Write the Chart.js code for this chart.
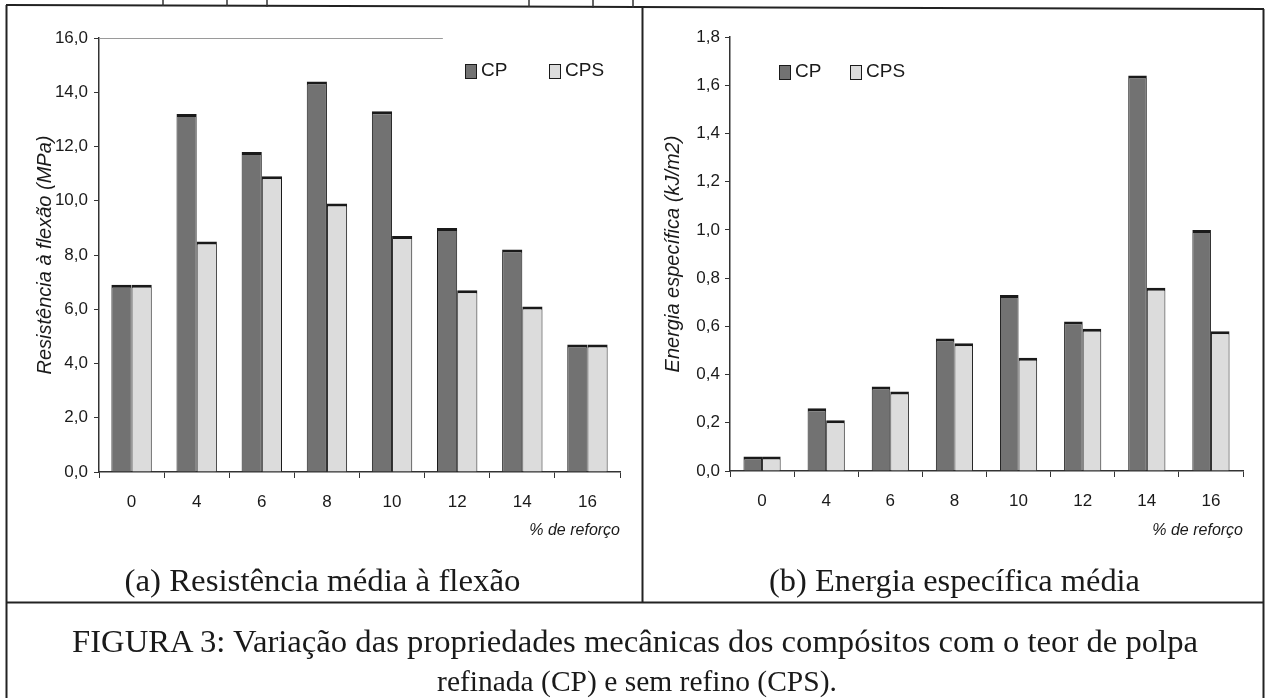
<!DOCTYPE html>
<html>
<head>
<meta charset="utf-8">
<script src="https://cdn.jsdelivr.net/npm/chart.js@4/dist/chart.umd.min.js"></script>
<style>
html,body{margin:0;padding:0;background:#fff;width:1266px;height:698px;overflow:hidden;}
#wrapA{position:absolute;left:0;top:0;width:640px;height:560px;}
#wrapB{position:absolute;left:642px;top:0;width:624px;height:560px;}
#frame{position:absolute;left:0;top:0;}
</style>
</head>
<body>
<div id="wrapA"><canvas id="chartA" width="640" height="560"></canvas></div>
<div id="wrapB"><canvas id="chartB" width="624" height="560"></canvas></div>
<svg id="frame" width="1266" height="698" xmlns="http://www.w3.org/2000/svg">
  <g stroke="#222" stroke-width="2" fill="none">
    <line x1="6" y1="5" x2="1264" y2="9"/>
    <line x1="6.5" y1="5" x2="6.5" y2="698"/>
    <line x1="1263.5" y1="9" x2="1263.5" y2="698"/>
    <line x1="642.5" y1="7" x2="642.5" y2="603"/>
    <line x1="6" y1="602.5" x2="1264" y2="602.5"/>
  </g>
  <g stroke="#333" stroke-width="1.5">
    <line x1="163" y1="0" x2="163" y2="6"/>
    <line x1="227" y1="0" x2="227" y2="6"/>
    <line x1="267" y1="0" x2="267" y2="7"/>
    <line x1="529" y1="0" x2="529" y2="7"/>
    <line x1="593" y1="0" x2="593" y2="8"/>
    <line x1="633" y1="0" x2="633" y2="8"/>
  </g>
  <g font-family="'Liberation Serif','Times New Roman',serif" fill="#1a1a1a">
    <text x="124.5" y="591" font-size="32" textLength="396" lengthAdjust="spacingAndGlyphs">(a) Resistência média à flexão</text>
    <text x="769" y="591" font-size="32" textLength="371" lengthAdjust="spacingAndGlyphs">(b) Energia específica média</text>
    <text x="72" y="652" font-size="31" textLength="1126" lengthAdjust="spacingAndGlyphs">FIGURA 3: Variação das propriedades mecânicas dos compósitos com o teor de polpa</text>
    <text x="637" y="691" font-size="29.5" text-anchor="middle">refinada (CP) e sem refino (CPS).</text>
  </g>
</svg>
<script>
// ---- data ----
const categories = ['0', '4', '6', '8', '10', '12', '14', '16'];
const seriesNames = ['CP', 'CPS'];
const resistCP  = [6.9, 13.2, 11.8, 14.4, 13.3, 9.0, 8.2, 4.7];
const resistCPS = [6.9, 8.5, 10.9, 9.9, 8.7, 6.7, 6.1, 4.7];
const energyCP  = [0.06, 0.26, 0.35, 0.55, 0.73, 0.62, 1.64, 1.00];
const energyCPS = [0.06, 0.21, 0.33, 0.53, 0.47, 0.59, 0.76, 0.58];
const resistAxis = { min: 0, max: 16, step: 2, title: 'Resistência à flexão (MPa)' };
const energyAxis = { min: 0, max: 1.8, step: 0.2, title: 'Energia específica (kJ/m2)' };
const xTitle = '% de reforço';

// ---- styling ----
const CP_FILL = '#727272';
const CPS_FILL = '#dcdcdc';
const INK = '#1a1a1a';
const SANS = "'Liberation Sans', Arial, sans-serif";

const inlineLegend = {
  id: 'inlineLegend',
  afterDraw(chart, args, opts) {
    const ctx = chart.ctx;
    ctx.save();
    ctx.font = opts.fontSize + 'px ' + SANS;
    ctx.textBaseline = 'alphabetic';
    chart.data.datasets.forEach((ds, i) => {
      const x = opts.x[i], y = opts.y;
      ctx.fillStyle = ds.backgroundColor;
      ctx.fillRect(x, y, 12, 15);
      ctx.strokeStyle = INK;
      ctx.lineWidth = 1;
      ctx.strokeRect(x + 0.5, y + 0.5, 11, 14);
      ctx.fillStyle = INK;
      ctx.fillText(ds.label, x + 16, y + opts.baseline);
    });
    ctx.restore();
  }
};

// faint partial top gridline seen in the left panel
const topRule = {
  id: 'topRule',
  beforeDatasetsDraw(chart, args, opts) {
    if (!opts.frac) return;
    const { ctx, chartArea, scales } = chart;
    const y = Math.round(scales.y.getPixelForValue(scales.y.max)) + 0.5;
    ctx.save();
    ctx.strokeStyle = '#9a9a9a';
    ctx.lineWidth = 1.2;
    ctx.beginPath();
    ctx.moveTo(chartArea.left, y);
    ctx.lineTo(chartArea.left + (chartArea.right - chartArea.left) * opts.frac, y);
    ctx.stroke();
    ctx.restore();
  }
};

function makeChart(id, cp, cps, axis, cfg) {
  const fmt = v => Number(v).toFixed(1).replace('.', ',');
  return new Chart(document.getElementById(id), {
    type: 'bar',
    data: {
      labels: categories,
      datasets: [
        { label: seriesNames[0], data: cp, backgroundColor: CP_FILL, borderColor: INK,
          borderWidth: { top: 3, left: 1, right: 1, bottom: 0 }, borderSkipped: 'start',
          categoryPercentage: cfg.catPct, barPercentage: 1.0 },
        { label: seriesNames[1], data: cps, backgroundColor: CPS_FILL, borderColor: INK,
          borderWidth: { top: 3, left: 1, right: 1, bottom: 0 }, borderSkipped: 'start',
          categoryPercentage: cfg.catPct, barPercentage: 1.0 }
      ]
    },
    options: {
      responsive: false,
      animation: false,
      devicePixelRatio: 1,
      layout: { padding: { left: cfg.padLeft, right: cfg.padRight, top: cfg.padTop, bottom: 0 } },
      plugins: {
        legend: { display: false },
        tooltip: { enabled: false },
        inlineLegend: { x: cfg.legendX, y: cfg.legendY, baseline: cfg.legendBase, fontSize: 19 },
        topRule: { frac: cfg.topRuleFrac }
      },
      scales: {
        x: {
          grid: { display: true, drawOnChartArea: false, drawTicks: true, tickLength: 6, color: '#333', offset: true },
          border: { display: true, color: '#333', width: 1.5 },
          ticks: { color: INK, font: { family: SANS, size: 17 }, padding: 14, maxRotation: 0 },
          title: { display: true, text: xTitle, align: 'end', color: INK,
                   font: { family: SANS, size: 16, style: 'italic' }, padding: { top: 0, bottom: 20 } },
          afterFit: s => { s.height = cfg.xHeight; }
        },
        y: {
          min: axis.min, max: axis.max,
          grid: { display: true, drawOnChartArea: false, drawTicks: true, tickLength: 5, color: '#333' },
          border: { display: true, color: '#333', width: 1.5 },
          ticks: { stepSize: axis.step, color: INK, font: { family: SANS, size: 17 }, padding: cfg.yTickPad,
                   callback: v => fmt(v) },
          title: { display: true, text: axis.title, color: INK,
                   font: { family: SANS, size: 20, style: 'italic' }, padding: { top: cfg.titlePad, bottom: 0 } },
          afterFit: s => { s.width = cfg.yWidth; }
        }
      }
    },
    plugins: [inlineLegend, topRule]
  });
}

makeChart('chartA', resistCP, resistCPS, resistAxis, {
  catPct: 0.62, padLeft: 8, padRight: 20, padTop: 38, xHeight: 88, yWidth: 91,
  yTickPad: 6, titlePad: 25, legendX: [465, 549], legendY: 64, legendBase: 12, topRuleFrac: 0.66
});
makeChart('chartB', energyCP, energyCPS, energyAxis, {
  catPct: 0.58, padLeft: 3, padRight: 23, padTop: 37, xHeight: 89, yWidth: 85,
  yTickPad: 5, titlePad: 16, legendX: [137, 208], legendY: 65, legendBase: 12, topRuleFrac: 0
});
</script>
</body>
</html>
